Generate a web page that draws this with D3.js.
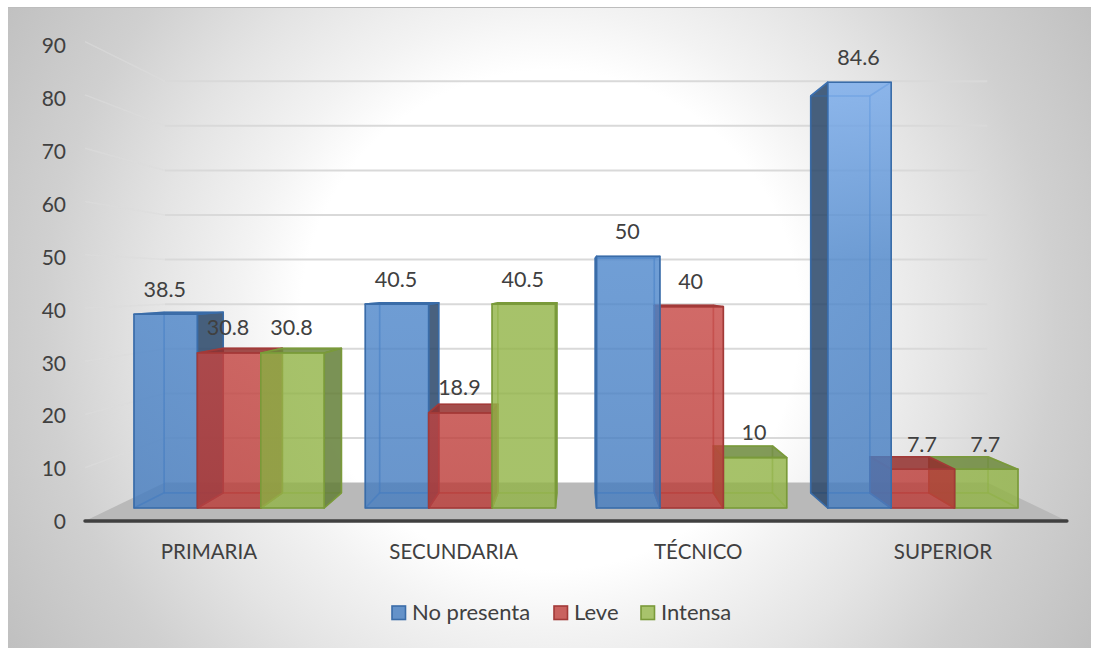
<!DOCTYPE html>
<html>
<head>
<meta charset="utf-8">
<title>Nivel educativo</title>
<script src="https://cdn.jsdelivr.net/npm/d3@7"></script>
<style>
    html, body { margin: 0; padding: 0; background: #fff; }
    text { font-family: Lato, "Open Sans", sans-serif; fill: #404040; }
</style>
</head>
<body>
<div id="chart"></div>
<script>
const categories = ["PRIMARIA", "SECUNDARIA", "TÉCNICO", "SUPERIOR"];
const seriesNames = ["No presenta", "Leve", "Intensa"];
const noPresenta = [38.5, 40.5, 50, 84.6];
const leve = [30.8, 18.9, 40, 7.7];
const intensa = [30.8, 40.5, 10, 7.7];
const yTicks = [0, 10, 20, 30, 40, 50, 60, 70, 80, 90];

const W = 1099, H = 648;

// perspective: every plane is the bar-front plane scaled about the vanishing point
const VP = [577, 285];
const AXIS_S = 1.058, REAR_S = 0.932, WALL_S = 0.886;
const project = (x, y, s) => [VP[0] + s * (x - VP[0]), VP[1] + s * (y - VP[1])];

const yFront = d3.scaleLinear().domain([0, 90]).range([508, 55]);
const yAxisScale = d3.scaleLinear().domain([0, 90]).range([522, 46]);

const x0 = d3.scaleBand().domain(categories).range([134, 1018]).paddingInner(0.1775);
const x1 = d3.scaleBand().domain(seriesNames).range([0, x0.bandwidth()]);

const palette = {
    "No presenta": { stops: [[82, "#78abec"], [260, "#4f88cc"], [508, "#457cbf"]], line: "#3a6ca8", inner: "#3f79c0", outer: "#2a4668", top: "#2f5f9c", swatch: "#6492c9" },
    "Leve": { stops: [[260, "#c94a47"], [508, "#bb3b37"]], line: "#a23a38", inner: "#b03f3c", outer: "#8a2c2a", top: "#93302e", swatch: "#c9625f" },
    "Intensa": { stops: [[260, "#92b447"], [508, "#92b447"]], line: "#7a9a3a", inner: "#86a544", outer: "#647f38", top: "#6d8a3c", swatch: "#a8c36c" }
};

const svg = d3.select("#chart").append("svg")
    .attr("width", W)
    .attr("height", H)
    .style("display", "block");

const defs = svg.append("defs");

const bg = defs.append("radialGradient")
    .attr("id", "panelBg")
    .attr("gradientUnits", "userSpaceOnUse")
    .attr("cx", 550).attr("cy", 320).attr("r", 640);
[[0, "#ffffff"], [0.39, "#ffffff"], [0.484, "#f3f3f3"], [0.625, "#e4e4e4"], [0.79, "#d0d0d0"], [1, "#bfbfbf"]].forEach(s => {
    bg.append("stop").attr("offset", s[0]).attr("stop-color", s[1]);
});

seriesNames.forEach((name, i) => {
    const g = defs.append("linearGradient")
        .attr("id", "front" + i)
        .attr("gradientUnits", "userSpaceOnUse")
        .attr("x1", 0).attr("x2", 0).attr("y1", 82).attr("y2", 508);
    palette[name].stops.forEach(s => {
        g.append("stop").attr("offset", (s[0] - 82) / (508 - 82)).attr("stop-color", s[1]);
    });
});

// panel
svg.append("rect")
    .attr("x", 8).attr("y", 7)
    .attr("width", 1083).attr("height", 641)
    .attr("fill", "url(#panelBg)");
svg.append("line")
    .attr("x1", 8).attr("x2", 1091).attr("y1", 7.5).attr("y2", 7.5)
    .attr("stroke", "#bdbdbd");

const line = d3.line();
const leftX = 112, rightX = 1040;

// floor
svg.append("path")
    .attr("d", line([
        project(leftX, yFront(0), AXIS_S),
        project(leftX, yFront(0), WALL_S),
        project(rightX, yFront(0), WALL_S),
        project(rightX, yFront(0), AXIS_S)
    ]) + "Z")
    .attr("fill", "#b9b9b9");

// gridlines on the back wall and the left side wall
const grid = svg.append("g")
    .attr("fill", "none");
yTicks.filter(d => d > 0).forEach(d => {
    const y = yFront(d);
    grid.append("path")
        .attr("stroke", "#dcdcdc")
        .attr("stroke-width", 1.5)
        .attr("stroke-opacity", 0.6)
        .attr("d", line([project(leftX, y, AXIS_S), project(leftX, y, WALL_S)]));
    grid.append("path")
        .attr("stroke", "#d9d9d9")
        .attr("stroke-width", 2)
        .attr("d", line([project(leftX, y, WALL_S), project(rightX, y, WALL_S)]));
});

// bars
const rows = [noPresenta, leve, intensa];
categories.forEach((cat, c) => {
    const bars = seriesNames.map((name, s) => {
        const left = x0(cat) + x1(name);
        return { name, s, left, right: left + x1.bandwidth(), value: rows[s][c] };
    });
    // farthest from the vanishing point is painted first
    const mid = b => Math.abs((b.left + b.right) / 2 - VP[0]);
    bars.sort((a, b) => d3.descending(mid(a), mid(b)));
    const group = svg.append("g").attr("class", "category");
    bars.forEach(b => drawBar(group, b));
});

function drawBar(group, b) {
    const p = palette[b.name];
    const top = yFront(b.value), bottom = yFront(0);
    const rearPt = (x, y) => project(x, y, REAR_S);
    const face = (pts, fill, alpha, stroke, strokeAlpha) => group.append("path")
        .attr("d", line(pts) + "Z")
        .attr("fill", fill)
        .attr("fill-opacity", alpha)
        .attr("stroke", stroke)
        .attr("stroke-opacity", strokeAlpha)
        .attr("stroke-width", 1.6)
        .attr("stroke-linejoin", "round");

    const leftFace = [[b.left, top], rearPt(b.left, top), rearPt(b.left, bottom), [b.left, bottom]];
    const rightFace = [[b.right, top], rearPt(b.right, top), rearPt(b.right, bottom), [b.right, bottom]];
    const topFace = [[b.left, top], rearPt(b.left, top), rearPt(b.right, top), [b.right, top]];
    const floorFace = [[b.left, bottom], rearPt(b.left, bottom), rearPt(b.right, bottom), [b.right, bottom]];
    const rearFace = [rearPt(b.left, top), rearPt(b.right, top), rearPt(b.right, bottom), rearPt(b.left, bottom)];

    // which side of the box faces outward depends on where it sits against the vanishing point
    const outerIsRight = b.right < VP[0];
    const topIsOuter = top > VP[1];

    face(rearFace, p.inner, 0.05, p.inner, 0.4);
    face(floorFace, p.inner, 0.05, p.inner, 0.4);
    face(outerIsRight ? leftFace : rightFace, p.inner, 0.05, p.inner, 0.4);
    face(outerIsRight ? rightFace : leftFace, p.outer, 0.85, p.line, 1);
    face(topFace, topIsOuter ? p.top : p.inner, topIsOuter ? 0.85 : 0.05, topIsOuter ? p.line : p.inner, topIsOuter ? 1 : 0.4);
    face([[b.left, top], [b.right, top], [b.right, bottom], [b.left, bottom]], "url(#front" + b.s + ")", 0.8, p.line, 1);
}

// data labels go above everything else
const labelGroup = svg.append("g");
categories.forEach((cat, c) => {
    seriesNames.forEach((name, s) => {
        const value = rows[s][c];
        labelGroup.append("text")
            .attr("x", x0(cat) + x1(name) + x1.bandwidth() / 2 - 1)
            .attr("y", yFront(value) - 17.5)
            .attr("text-anchor", "middle")
            .attr("font-size", "21.5px")
            .text(value);
    });
});

// value axis
const yAxis = svg.append("g")
    .attr("transform", "translate(66,0)")
    .call(d3.axisLeft(yAxisScale).tickValues(yTicks).tickSize(0).tickPadding(0));
yAxis.select(".domain").remove();
yAxis.selectAll("text")
    .attr("font-size", "21px")
    .style("font-family", "Lato, 'Open Sans', sans-serif");

// base line of the floor
svg.append("path")
    .attr("d", line([project(leftX, yFront(0), AXIS_S), project(rightX, yFront(0), AXIS_S)]))
    .attr("stroke", "#404040")
    .attr("stroke-width", 3.5)
    .attr("stroke-linecap", "round");

// category labels sit on the floor's front edge
categories.forEach(cat => {
    const cx = x0(cat) + x0.bandwidth() / 2;
    svg.append("text")
        .attr("x", project(cx, 0, AXIS_S)[0])
        .attr("y", 559)
        .attr("text-anchor", "middle")
        .attr("font-size", "20.5px")
        .text(cat);
});

// legend
const legendX = [392, 554, 641];
const legend = svg.append("g");
seriesNames.forEach((name, i) => {
    legend.append("rect")
        .attr("x", legendX[i]).attr("y", 606)
        .attr("width", 13.5).attr("height", 13.5)
        .attr("fill", palette[name].swatch)
        .attr("stroke", palette[name].line)
        .attr("stroke-width", 1.6);
    legend.append("text")
        .attr("x", legendX[i] + 20)
        .attr("y", 620)
        .attr("font-size", "22px")
        .text(name);
});
</script>
</body>
</html>
